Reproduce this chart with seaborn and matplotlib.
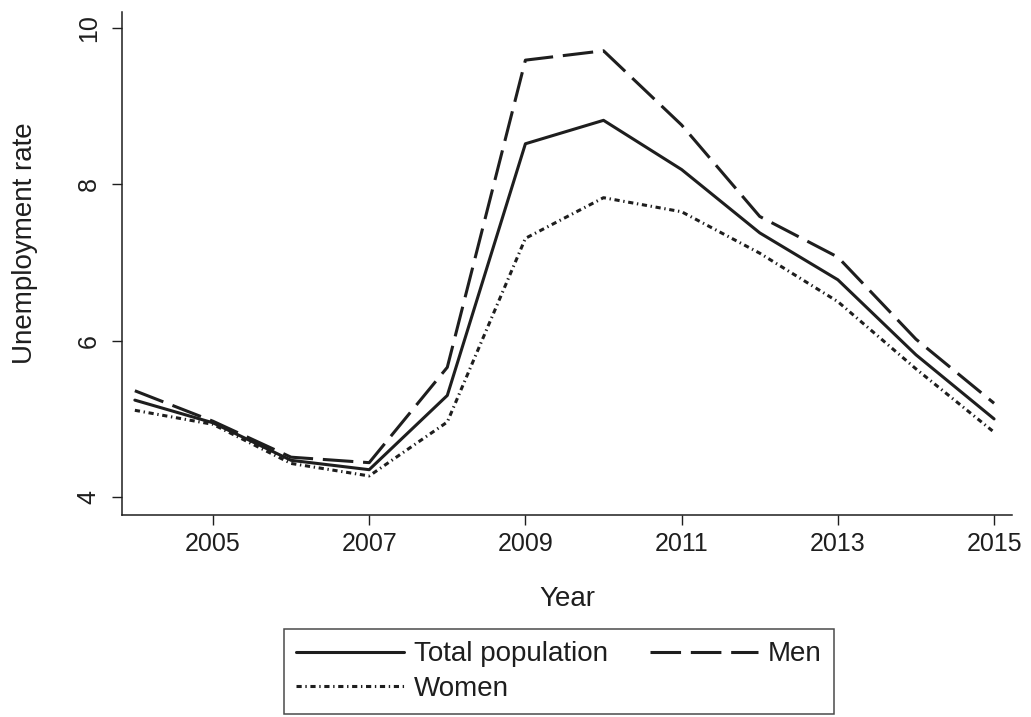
"""
Unemployment rate by sex, 2004-2015, Stata-like line chart.
"""
import pandas as pd
import seaborn as sb
from matplotlib import pyplot as plt
from matplotlib import ticker as tkr

YEARS = list(range(2004, 2016))
TOTAL = [5.24, 4.95, 4.47, 4.35, 5.30, 8.52, 8.82, 8.19, 7.38, 6.78, 5.82, 5.00]
MEN = [5.36, 4.97, 4.51, 4.44, 5.66, 9.59, 9.71, 8.76, 7.59, 7.07, 6.02, 5.20]
WOMEN = [5.11, 4.93, 4.43, 4.27, 4.96, 7.31, 7.83, 7.65, 7.12, 6.50, 5.64, 4.83]
GROUPS = ["Total population", "Men", "Women"]
X_TICKS = [2005, 2007, 2009, 2011, 2013, 2015]
Y_TICKS = [4, 6, 8, 10]

INK = "#1e1e1e"

sb.set_style("white")
plt.rcParams["font.family"] = ["Liberation Sans", "DejaVu Sans"]


def get_data():
    frames = []
    for name, vals in zip(GROUPS, [TOTAL, MEN, WOMEN]):
        frames.append(pd.DataFrame({"year": YEARS, "rate": vals, "group": name}))
    return pd.concat(frames, ignore_index=True)


def main():
    data = get_data()
    fig = plt.figure(figsize=(10.31, 7.17), dpi=100)
    ax = fig.add_axes([0.1183, 0.2817, 0.8633, 0.702])

    dashes = {"Total population": "", "Men": (10, 3.2), "Women": (1.7, 1.2, 0.45, 1.2)}
    sb.lineplot(data=data, x="year", y="rate", style="group", style_order=GROUPS,
                dashes=dashes, color=INK, linewidth=2.2, legend=False, ax=ax)

    ax.set_xlim(2003.835, 2015.23)
    ax.set_ylim(3.77, 10.21)
    ax.xaxis.set_major_locator(tkr.FixedLocator(X_TICKS))
    ax.yaxis.set_major_locator(tkr.FixedLocator(Y_TICKS))

    for side in ["top", "right"]:
        ax.spines[side].set_visible(False)
    for side in ["left", "bottom"]:
        ax.spines[side].set_color(INK)
        ax.spines[side].set_linewidth(1.1)

    ax.tick_params(axis="both", direction="out", length=7.2, width=1.0,
                   color=INK, labelcolor=INK, labelsize=18, left=True, bottom=True)
    ax.tick_params(axis="x", pad=5)
    ax.tick_params(axis="y", pad=8, labelrotation=90)
    for lab in ax.get_yticklabels():
        lab.set_va("center")

    ax.set_xlabel("Year", fontsize=20, color=INK)
    ax.set_ylabel("Unemployment rate", fontsize=20, color=INK)
    ax.xaxis.set_label_coords(0.5, -0.142)
    ax.yaxis.set_label_coords(-0.094, 0.54)

    lines = ax.get_lines()
    handles = [lines[0], lines[2], lines[1]]
    labels = [GROUPS[0], GROUPS[2], GROUPS[1]]
    leg = fig.legend(handles, labels, ncol=2, loc="upper center",
                     bbox_to_anchor=(0.542, 0.123), fontsize=20, frameon=True,
                     fancybox=False, edgecolor=INK, handlelength=3.9,
                     handletextpad=0.35, columnspacing=1.5, labelspacing=0.3,
                     borderpad=0.45, borderaxespad=0)
    leg.get_frame().set_linewidth(1.1)
    for t in leg.get_texts():
        t.set_color(INK)

    fig.savefig("out.png", dpi=100)


if __name__ == "__main__":
    main()
